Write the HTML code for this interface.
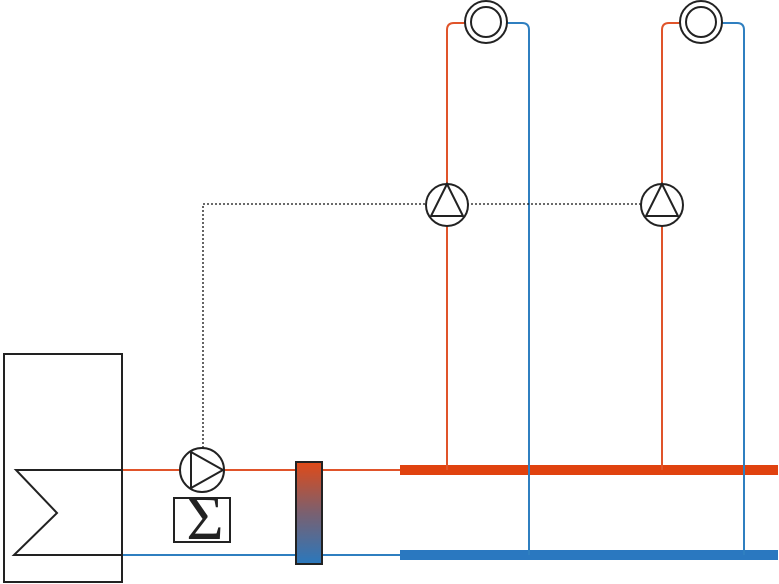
<!DOCTYPE html>
<html><head><style>html,body{margin:0;padding:0;background:#fff;width:779px;height:584px;overflow:hidden}</style></head>
<body>
<svg width="779" height="584" viewBox="0 0 779 584" xmlns="http://www.w3.org/2000/svg">
<defs><linearGradient id="g" x1="0" y1="0" x2="0" y2="1"><stop offset="0" stop-color="#e04a18"/><stop offset="0.5" stop-color="#7a6070"/><stop offset="1" stop-color="#2a78bd"/></linearGradient></defs>
<g fill="none" stroke-width="2">
<line x1="122" y1="470" x2="400" y2="470" stroke="#e0542a"/>
<line x1="122" y1="555" x2="400" y2="555" stroke="#2f7fc0"/>
<line x1="400" y1="470" x2="778" y2="470" stroke="#e0420f" stroke-width="10"/>
<line x1="400" y1="555" x2="778" y2="555" stroke="#2a78c0" stroke-width="10"/>
<path d="M447 470 V30 Q447 23 454 23 H466" stroke="#e0542a"/>
<path d="M529 555 V30 Q529 23 522 23 H506" stroke="#2f7fc0"/>
<path d="M662 470 V30 Q662 23 669 23 H681" stroke="#e0542a"/>
<path d="M744 555 V30 Q744 23 737 23 H721" stroke="#2f7fc0"/>
<path d="M203 448 V204 H662" stroke="#111" stroke-width="1.3" stroke-dasharray="2,2"/>
</g>
<g fill="#fff" stroke="#222" stroke-width="2">
<rect x="4" y="354" width="118" height="228" fill="none"/>
<path d="M122 470 H16 L57 513 L14 555 H122" fill="none"/>
<circle cx="202" cy="470" r="22"/>
<path d="M191 452 L223 470 L191 488 Z" fill="none"/>
<rect x="174" y="498" width="56" height="44"/>
<rect x="296" y="462" width="26" height="102" fill="url(#g)"/>
<circle cx="486" cy="22" r="21"/><circle cx="486" cy="22" r="15"/>
<circle cx="701" cy="22" r="21"/><circle cx="701" cy="22" r="15"/>
<circle cx="447" cy="205" r="21"/>
<path d="M447 184 L431 216 H463 Z" fill="none"/>
<circle cx="662" cy="205" r="21"/>
<path d="M662 184 L646 216 H678 Z" fill="none"/>
</g>
<text x="205" y="539" font-family="Liberation Serif, serif" font-size="64" text-anchor="middle" fill="#222">Σ</text>
</svg>
</body></html>
